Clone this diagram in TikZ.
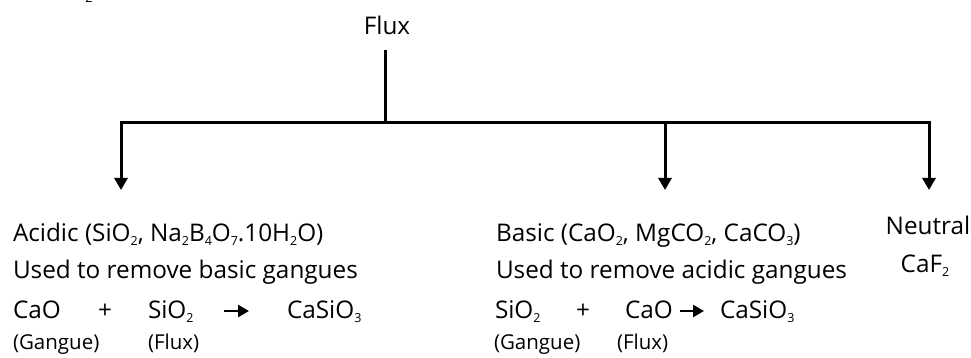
\documentclass[tikz,border=0pt]{standalone}
\usepackage{fontspec}
\setmainfont{Open Sans}
\usetikzlibrary{arrows.meta}
\newcommand\sbs[1]{\raisebox{-4.5pt}{\fontsize{12.5}{12.5}\selectfont #1}}
\tikzset{
  txt/.style={inner sep=0pt, outer sep=0pt, font=\fontsize{24.3}{29}\selectfont, anchor=base west},
  small/.style={inner sep=0pt, outer sep=0pt, font=\fontsize{20.5}{24}\selectfont, anchor=base west},
  conn/.style={line width=3pt, -{Triangle[width=13pt,length=12pt]}},
  trunk/.style={line width=3pt},
  rxn/.style={line width=2.6pt, -{Triangle[width=12pt,length=11pt]}}
}
\begin{document}
\begin{tikzpicture}[x=1pt,y=-1pt]
\useasboundingbox (0,0) rectangle (971,358);
% stray fragment at the top
\node[inner sep=0pt, font=\fontsize{12.5}{12.5}\selectfont, anchor=base] (frag) at (89,3) {2};
% title
\node[txt, anchor=base] (flux) at (387,35) {Flux};
\coordinate (j0) at (385,50);
\coordinate (j1) at (385,123);
\coordinate (mj) at (665,123);
\coordinate (lt) at (121,190);
\coordinate (mt) at (665,190);
\coordinate (rt) at (929,190);
\draw[trunk] (j0) -- (j1);
\draw[conn] (j1) -| (lt);
\draw[conn] (j1) -| (rt);
\draw[conn] (mj) -- (mt);
% left column
\node[txt] (acidic) at (13,241) {Acidic (SiO\sbs{2}, Na\sbs{2}B\sbs{4}O\sbs{7}.10H\sbs{2}O)};
\node[txt] (usedl) at (13,278) {Used to remove basic gangues};
\node[txt] (caol) at (13,318) {CaO};
\node[txt, anchor=base] (plusl) at (105,318) {+};
\node[txt] (siol) at (148,318) {SiO\sbs{2}};
\coordinate (als) at (224,311);
\coordinate (ale) at (249,311);
\draw[rxn] (als) -- (ale);
\node[txt] (casiol) at (287,318) {CaSiO\sbs{3}};
\node[small] (gangl) at (13,349) {(Gangue)};
\node[small] (fluxl) at (148,349) {(Flux)};
% middle column
\node[txt] (basic) at (496,241) {Basic (CaO\sbs{2}, MgCO\sbs{2}, CaCO\sbs{3})};
\node[txt] (usedr) at (496,278) {Used to remove acidic gangues};
\node[txt] (sior) at (495,318) {SiO\sbs{2}};
\node[txt, anchor=base] (plusr) at (583,318) {+};
\node[txt] (caor) at (625,318) {CaO};
\coordinate (ars) at (680,311);
\coordinate (are) at (704,311);
\draw[rxn] (ars) -- (are);
\node[txt] (casior) at (720,318) {CaSiO\sbs{3}};
\node[small] (gangr) at (494,349) {(Gangue)};
\node[small] (fluxr) at (617,349) {(Flux)};
% right column
\node[txt, anchor=base] (neutral) at (928,234) {Neutral};
\node[txt, anchor=base] (caf) at (925,272) {CaF\sbs{2}};
\end{tikzpicture}
\end{document}
